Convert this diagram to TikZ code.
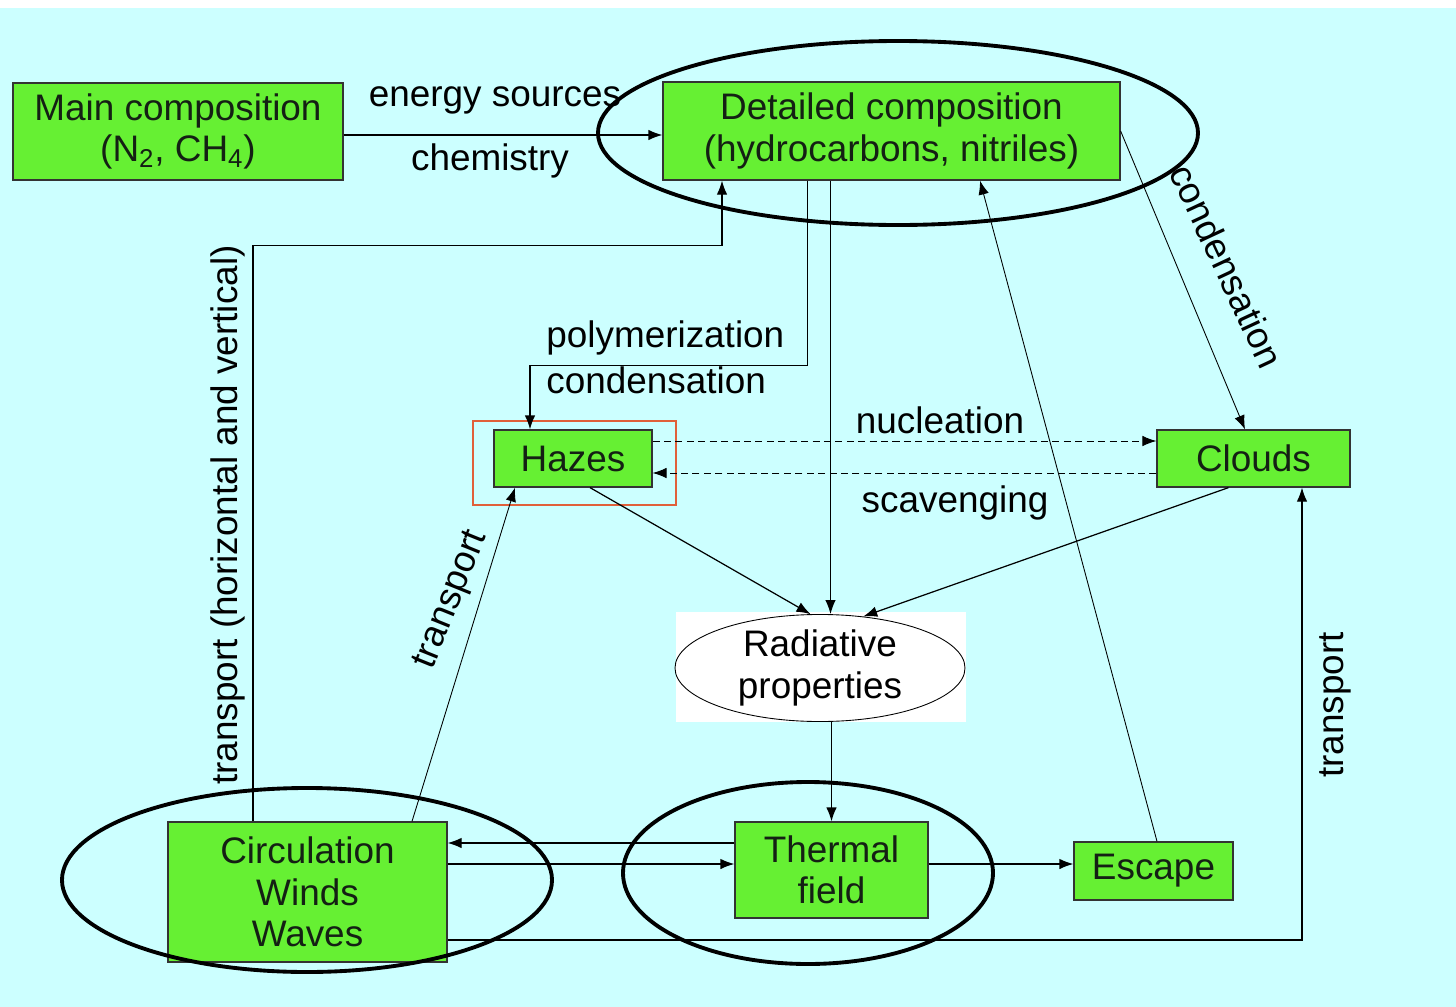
\documentclass[tikz,border=0pt]{standalone}
\usepackage{fontspec}
\setmainfont{Liberation Sans}
\usetikzlibrary{shapes.geometric,arrows.meta,positioning}

\definecolor{bgcyan}{HTML}{CCFFFF}
\definecolor{boxgreen}{HTML}{66F033}
\definecolor{framered}{HTML}{E0603A}
\definecolor{inktext}{HTML}{142014}

\tikzset{
  box/.style={draw=black!80, fill=boxgreen, line width=0.7pt, align=center, inner sep=0pt, text=inktext},
  arr/.style={-{Latex[length=2.8mm,width=2.1mm]}, line width=0.7pt},
  dasharr/.style={arr, dashed, dash pattern=on 4pt off 2.5pt, line width=0.5pt},
  ring/.style={line width=2.2pt},
  lbl/.style={inner sep=0pt}
}

\begin{document}
\begin{tikzpicture}[x=0.2mm, y=-0.2mm, font=\fontsize{21}{23.5}\selectfont]

%background
\useasboundingbox (0,0) rectangle (1456,1007);
\fill[white] (0,0) rectangle (1456,8);
\fill[bgcyan] (0,8) rectangle (1456,1007);

%main composition
\node[box, minimum width=66mm, minimum height=19.4mm] (main) at (178,131.5) {Main composition\\(N\textsubscript{2}, CH\textsubscript{4})};
%detailed composition
\node[box, minimum width=91.4mm, minimum height=19.6mm] (detail) at (891.5,131) {Detailed composition\\(hydrocarbons, nitriles)};
\draw[ring] (898,133) ellipse [x radius=60mm, y radius=18.4mm];
%hazes
\node[draw=framered, line width=0.6pt, minimum width=40.6mm, minimum height=16.8mm] (hazeframe) at (574.5,463) {};
\node[box, minimum width=31.6mm, minimum height=11.4mm] (hazes) at (573,458.5) {Hazes};
%clouds
\node[box, minimum width=38.6mm, minimum height=11.4mm] (clouds) at (1253.5,458.5) {Clouds};
%radiative properties
\fill[white] (676,612) rectangle (966,722);
\node[ellipse, draw, fill=white, line width=0.5pt, inner sep=0pt, align=center, minimum width=58mm, minimum height=21.4mm] (rad) at (820,668) {Radiative\\properties};
%circulation
\node[box, minimum width=55.8mm, minimum height=28mm] (circ) at (307.5,892) {Circulation\\Winds\\Waves};
\draw[ring] (307,880) ellipse [x radius=49mm, y radius=18.4mm];
%thermal field
\node[box, minimum width=38.6mm, minimum height=19.2mm] (thermal) at (831.5,870) {Thermal\\field};
\draw[ring] (808,873) ellipse [x radius=37mm, y radius=18.2mm];
%escape
\node[box, minimum width=31.8mm, minimum height=11.6mm] (escape) at (1153.5,871) {Escape};

%chemistry
\draw[arr] ([yshift=-0.7mm]main.east) -- ([yshift=-0.7mm]main.east -| detail.west);
\node[lbl] (lblenergy) at (495,100) {energy sources};
\node[lbl] (lblchem) at (490,161) {chemistry};
%polymerization
\draw[arr] ([xshift=-16.8mm]detail.south) -- ++(0,185) -| ([xshift=-8.6mm]hazes.north);
\node[lbl, anchor=west] (lblpoly) at (546,338) {polymerization};
\node[lbl, anchor=west] (lblcond) at (546,380) {condensation};
%detailed -> radiative
\draw[arr] ([xshift=-12.2mm]detail.south) -- ([xshift=-12.2mm]detail.south |- rad.north);
%transport to detailed
\draw[arr] ([xshift=-10.9mm]circ.north) |- ([xshift=-33.9mm, yshift=-13mm]detail.south) -- ([xshift=-33.9mm]detail.south);
\node[lbl, rotate=90] (lbltransall) at (228,515) {transport (horizontal and vertical)};
%condensation to clouds
\draw[arr, line width=0.5pt] (detail.east) -- ([xshift=-1.7mm]clouds.north);
\node[lbl, rotate=-65] (lblcloudcond) at (1227,266) {condensation};
%nucleation / scavenging
\draw[dasharr] ([yshift=3.5mm]hazes.east) -- ([yshift=3.5mm]clouds.west);
\draw[dasharr] ([yshift=-2.9mm]clouds.west) -- ([yshift=-2.9mm]hazes.east);
\node[lbl] (lblnucl) at (940,420) {nucleation};
\node[lbl] (lblscav) at (955,503) {scavenging};
%hazes, clouds -> radiative
\draw[arr] ([xshift=3.4mm]hazes.south) -- (rad.100);
\draw[arr] ([xshift=-5mm]clouds.south) -- (rad.50);
%transport to hazes
\draw[arr, line width=0.5pt] ([xshift=20.9mm]circ.north) -- ([xshift=-11.6mm]hazes.south);
\node[lbl, rotate=68] (lbltranshaze) at (452,600) {transport};
%escape -> detailed
\draw[arr, line width=0.5pt] ([xshift=0.7mm]escape.north) -- ([xshift=17.7mm]detail.south);
%radiative -> thermal
\draw[arr] (rad.south -| thermal.north) -- (thermal.north);
%thermal <-> circulation
\draw[arr] ([yshift=5.4mm]thermal.west) -- ([yshift=5.4mm]thermal.west -| circ.east);
\draw[arr] ([yshift=1.2mm]thermal.west -| circ.east) -- ([yshift=1.2mm]thermal.west);
%thermal -> escape
\draw[arr] ([yshift=1.2mm]thermal.east) -- ([yshift=1.2mm]thermal.east -| escape.west);
%transport to clouds
\draw[arr] ([yshift=-9.6mm]circ.east) -| ([xshift=9.7mm]clouds.south);
\node[lbl, rotate=90] (lbltranscloud) at (1335,705) {transport};

\end{tikzpicture}
\end{document}
